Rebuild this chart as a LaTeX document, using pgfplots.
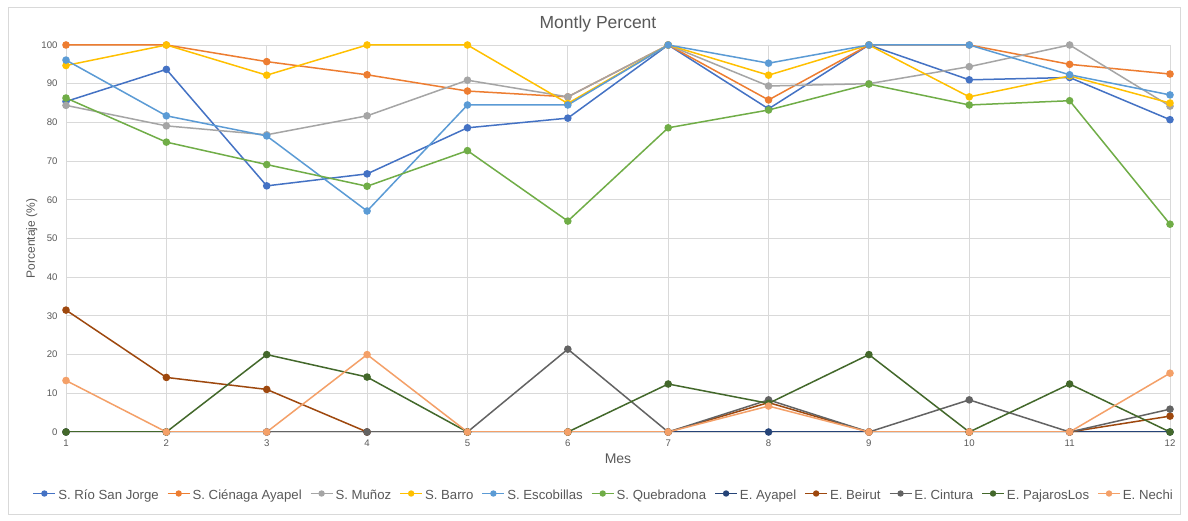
\documentclass[border=0pt]{standalone}
\usepackage{pgfplots}
\pgfplotsset{compat=1.18}
\usepackage{fontspec}
\setmainfont{Liberation Sans}
\definecolor{c1}{HTML}{4472C4}
\definecolor{c2}{HTML}{ED7D31}
\definecolor{c3}{HTML}{A5A5A5}
\definecolor{c4}{HTML}{FFC000}
\definecolor{c5}{HTML}{5B9BD5}
\definecolor{c6}{HTML}{70AD47}
\definecolor{c7}{HTML}{264478}
\definecolor{c8}{HTML}{9E480E}
\definecolor{c9}{HTML}{636363}
\definecolor{c10}{HTML}{43682B}
\definecolor{c11}{HTML}{F4A068}
\definecolor{txt}{HTML}{595959}
\definecolor{grd}{HTML}{D9D9D9}
\begin{document}
\begin{tikzpicture}[x=1pt,y=1pt]
\path[use as bounding box,fill=white] (0,0) rectangle (1188,521);
\draw[grd,line width=1pt] (8,6) rectangle (1180,513);
\node[text=txt,font=\fontsize{17.5}{19}\selectfont] at (598,497) {Montly Percent};
\begin{axis}[
  at={(66pt,89pt)}, anchor=south west,
  scale only axis, width=1104pt, height=387pt,
  xmin=1, xmax=12, ymin=0, ymax=100,
  xtick={1,...,12}, ytick={0,10,...,100},
  grid=major, major grid style={grd,line width=0.9pt},
  axis line style={grd,line width=0.9pt},
  tick style={draw=none},
  tick label style={font=\fontsize{9.6}{11}\selectfont, text=txt},
  /pgf/number format/assume math mode=true,
  xticklabel style={yshift=-4pt},
  yticklabel style={xshift=-5pt},
  xlabel={Mes},
  xlabel style={at={(axis description cs:0.5,-0.07)}, anchor=center, font=\fontsize{14}{16}\selectfont, text=txt},
  ylabel={Porcentaje (\%)},
  ylabel style={at={(axis description cs:-0.031,0.5)}, anchor=center, rotate=0, font=\fontsize{12}{14}\selectfont, text=txt},
  legend columns=-1,
  legend style={at={(axis description cs:0.487,-0.168)}, anchor=center, draw=none, fill=none,
    font=\fontsize{13.2}{15}\selectfont, text=txt,
    nodes={text depth=0.25em, text height=0.75em},
    /tikz/every even column/.append style={column sep=6pt}},
  legend image code/.code={
    \draw[#1,line width=1.8pt] (0pt,3.5pt) -- (22pt,3.5pt);
    \draw[#1,mark=*,mark size=2.4pt,mark options={solid}] plot coordinates {(11pt,3.5pt)};},
  every axis plot/.append style={line width=1.5pt, mark=*, mark size=3pt},
]
\addplot[c1, mark options={fill=c1}] coordinates {(1,85.4)(2,93.7)(3,63.6)(4,66.7)(5,78.6)(6,81.1)(7,100)(8,83.5)(9,100)(10,91.0)(11,91.6)(12,80.7)};
\addlegendentry{S. Río San Jorge}
\addplot[c2, mark options={fill=c2}] coordinates {(1,100)(2,100)(3,95.7)(4,92.3)(5,88.1)(6,86.6)(7,100)(8,85.8)(9,100)(10,100)(11,95.0)(12,92.5)};
\addlegendentry{S. Ciénaga Ayapel}
\addplot[c3, mark options={fill=c3}] coordinates {(1,84.4)(2,79.1)(3,76.8)(4,81.7)(5,90.9)(6,86.6)(7,100)(8,89.4)(9,90.0)(10,94.4)(11,100)(12,84.2)};
\addlegendentry{S. Muñoz}
\addplot[c4, mark options={fill=c4}] coordinates {(1,94.7)(2,100)(3,92.2)(4,100)(5,100)(6,84.9)(7,100)(8,92.2)(9,100)(10,86.6)(11,92.0)(12,85.0)};
\addlegendentry{S. Barro}
\addplot[c5, mark options={fill=c5}] coordinates {(1,96.1)(2,81.7)(3,76.5)(4,57.1)(5,84.5)(6,84.5)(7,100)(8,95.3)(9,100)(10,100)(11,92.3)(12,87.1)};
\addlegendentry{S. Escobillas}
\addplot[c6, mark options={fill=c6}] coordinates {(1,86.3)(2,74.9)(3,69.1)(4,63.5)(5,72.7)(6,54.5)(7,78.6)(8,83.2)(9,89.9)(10,84.5)(11,85.6)(12,53.7)};
\addlegendentry{S. Quebradona}
\addplot[c7, mark options={fill=c7}] coordinates {(1,0)(2,0)(3,0)(4,0)(5,0)(6,0)(7,0)(8,0)(9,0)(10,0)(11,0)(12,0)};
\addlegendentry{E. Ayapel}
\addplot[c8, mark options={fill=c8}] coordinates {(1,31.5)(2,14.1)(3,11.0)(4,0)(5,0)(6,0)(7,0)(8,7.6)(9,0)(10,0)(11,0)(12,4.1)};
\addlegendentry{E. Beirut}
\addplot[c9, mark options={fill=c9}] coordinates {(1,0)(2,0)(3,0)(4,0)(5,0)(6,21.4)(7,0)(8,8.3)(9,0)(10,8.3)(11,0)(12,5.9)};
\addlegendentry{E. Cintura}
\addplot[c10, mark options={fill=c10}] coordinates {(1,0)(2,0)(3,20)(4,14.2)(5,0)(6,0)(7,12.4)(8,7.4)(9,20)(10,0)(11,12.4)(12,0)};
\addlegendentry{E. PajarosLos}
\addplot[c11, mark options={fill=c11}] coordinates {(1,13.3)(2,0)(3,0)(4,20)(5,0)(6,0)(7,0)(8,6.7)(9,0)(10,0)(11,0)(12,15.2)};
\addlegendentry{E. Nechi}
\end{axis}
\end{tikzpicture}
\end{document}
